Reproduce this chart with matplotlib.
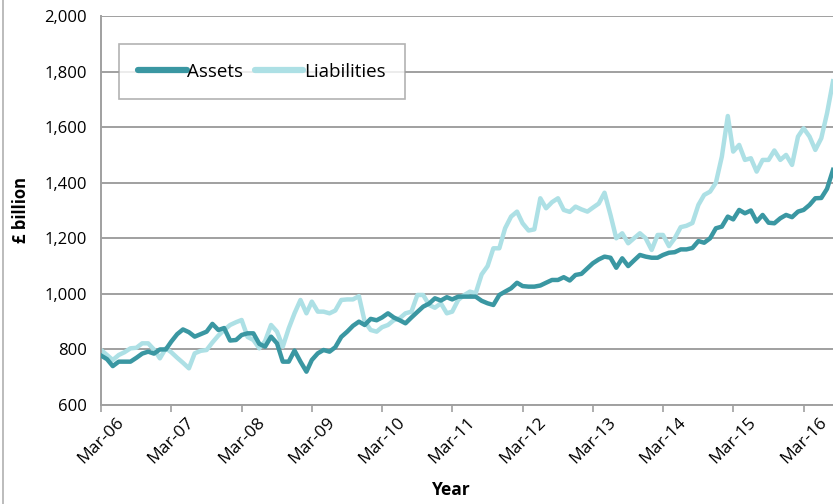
"""Assets vs liabilities, monthly, Mar-06 to Aug-16 (£ billion)."""

import matplotlib
matplotlib.use("Agg")
import matplotlib.pyplot as plt
import matplotlib.dates as mdates
from matplotlib.lines import Line2D
import pandas as pd

plt.rcParams["font.family"] = ["Open Sans", "DejaVu Sans"]

start_month = "2006-03"
assets = [
    778, 765, 740, 756, 756, 756, 770, 785, 792, 785, 800, 800,
    828, 855, 872, 862, 846, 855, 864, 892, 870, 877, 832, 834,
    852, 858, 858, 820, 810, 846, 822, 756, 756, 796, 756, 720,
    762, 786, 798, 792, 808, 845, 864, 885, 900, 888, 910, 905,
    915, 930, 915, 905, 894, 915, 935, 954, 965, 984, 976, 988,
    980, 990, 990, 990, 990, 975, 966, 960, 996, 1008, 1020, 1040,
    1028, 1026, 1026, 1030, 1040, 1050, 1050, 1060, 1048, 1068, 1072, 1092,
    1110, 1124, 1134, 1130, 1094, 1128, 1100, 1120, 1140, 1134, 1130, 1130,
    1140, 1148, 1150, 1160, 1160, 1165, 1190, 1184, 1200, 1236, 1242, 1278,
    1268, 1302, 1290, 1300, 1260, 1284, 1256, 1254, 1272, 1284, 1276, 1296,
    1302, 1320, 1344, 1345, 1378, 1446,
]
liabilities = [
    798, 780, 762, 780, 790, 804, 806, 822, 822, 800, 768, 804,
    790, 770, 752, 732, 786, 795, 798, 825, 850, 870, 888, 898,
    906, 845, 834, 804, 830, 888, 864, 810, 876, 930, 978, 930,
    972, 936, 936, 930, 940, 978, 980, 980, 992, 900, 870, 864,
    880, 888, 905, 912, 930, 936, 996, 996, 960, 950, 966, 930,
    936, 978, 995, 1008, 1002, 1070, 1100, 1164, 1164, 1236, 1278, 1296,
    1254, 1228, 1232, 1344, 1308, 1330, 1344, 1302, 1295, 1314, 1304, 1296,
    1310, 1325, 1364, 1284, 1200, 1218, 1182, 1200, 1218, 1200, 1158, 1212,
    1212, 1172, 1200, 1240, 1245, 1255, 1320, 1356, 1368, 1400, 1494, 1640,
    1512, 1536, 1482, 1488, 1440, 1482, 1482, 1516, 1482, 1500, 1464, 1566,
    1596, 1566, 1518, 1560, 1650, 1765,
]
y_ticks = [600, 800, 1000, 1200, 1400, 1600, 1800, 2000]

dates = pd.date_range(start_month, periods=len(assets), freq="MS")

fig = plt.figure(figsize=(8.33, 5.04), dpi=100)
ax = fig.add_axes([0.1213, 0.1964, 0.8787, 0.7719])

grid_col = "#a0a0a0"
ax.plot(dates, assets, color="#3a97a2", lw=3.2, label="Assets", zorder=3)
ax.plot(dates, liabilities, color="#ade0e5", lw=3.2, label="Liabilities", zorder=2)

ax.set_ylim(600, 2000)
ax.set_yticks(y_ticks)
ax.set_yticklabels([f"{v:,}" for v in y_ticks])
ax.set_xlim(dates[0], dates[-1])
ax.yaxis.grid(True, color=grid_col, lw=1.4)
ax.set_axisbelow(True)

ax.xaxis.set_major_locator(mdates.MonthLocator(bymonth=3))
ax.xaxis.set_major_formatter(mdates.DateFormatter("%b-%y"))
ax.tick_params(axis="x", labelrotation=45)
plt.setp(ax.get_xticklabels(), ha="center", va="top")

for side in ("top", "right"):
    ax.spines[side].set_visible(False)
for side in ("left", "bottom"):
    ax.spines[side].set_color(grid_col)
    ax.spines[side].set_linewidth(1.4)
ax.tick_params(axis="x", colors=grid_col, length=5, width=1.2, labelcolor="black",
               labelsize=12.5, pad=2)
ax.tick_params(axis="y", length=0, labelsize=12, pad=10)

ax.set_xlabel("Year", fontsize=12.5, fontweight="bold", va="center")
ax.xaxis.set_label_coords(0.478, -0.218)
ax.set_ylabel("£ billion", fontsize=12, fontweight="bold", va="center")
ax.yaxis.set_label_coords(-0.110, 0.5)

leg = ax.legend(loc="upper left", bbox_to_anchor=(0.0246, 0.928), ncol=2,
                fontsize=13.5, frameon=True, fancybox=False, handlelength=2.6,
                handletextpad=0.05, columnspacing=0.6, borderpad=1.0,
                borderaxespad=0)
leg.get_frame().set_edgecolor(grid_col)
leg.get_frame().set_linewidth(1.2)
for h in leg.get_lines():
    h.set_linewidth(4.5)
    h.set_solid_capstyle("round")

fig.add_artist(Line2D([0.004, 0.004], [0, 1], color="#b0b0b0", lw=1.2,
                      transform=fig.transFigure))

fig.savefig("out.png", dpi=100)
